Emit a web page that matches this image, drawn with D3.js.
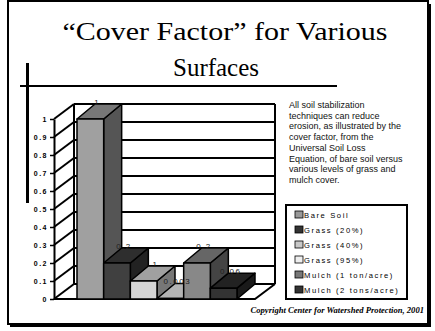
<!DOCTYPE html>
<html>
<head>
<meta charset="utf-8">
<script src="https://cdn.jsdelivr.net/npm/d3@7"></script>
<style>
    body { margin: 0; background: #fff; }
    svg { display: block; }
</style>
</head>
<body>
<svg id="slide" width="435" height="331"></svg>
<script>
// chart data
const series = ["Bare Soil", "Grass (20%)", "Grass (40%)", "Grass (95%)", "Mulch (1 ton/acre)", "Mulch (2 tons/acre)"];
const values = [1, 0.2, 0.1, 0.003, 0.2, 0.06];
const valueLabels = ["1", "0.2", "0.1", "0.003", "0.2", "0.06"];
const yTicks = [0, 0.1, 0.2, 0.3, 0.4, 0.5, 0.6, 0.7, 0.8, 0.9, 1];

// shades for each face of the 3d bars
const frontColors = ["#a0a0a0", "#404040", "#d4d4d4", "#e6e6e6", "#888888", "#333333"];
const topColors = ["#777777", "#2e2e2e", "#a0a0a0", "#b4b4b4", "#666666", "#222222"];
const sideColors = ["#555555", "#222222", "#777777", "#888888", "#444444", "#1a1a1a"];
const legendColors = ["#999999", "#333333", "#c8c8c8", "#eeeeee", "#777777", "#333333"];

const titleLines = ["\u201cCover Factor\u201d for Various", "Surfaces"];
const titleWidths = [325, 86];
const titleCenters = [225, 216];
const noteLines = [
    "All soil stabilization",
    "techniques can reduce",
    "erosion, as illustrated by the",
    "cover factor, from the",
    "Universal Soil Loss",
    "Equation, of bare soil versus",
    "various levels of grass and",
    "mulch  cover."
];
const copyright = "Copyright Center for Watershed Protection, 2001";

const svg = d3.select("#slide");

// slide frame with shadow
svg.append("rect")
    .attr("x", 8).attr("y", 1).attr("width", 420).attr("height", 323)
    .attr("fill", "none").attr("stroke", "#000").attr("stroke-width", 2);
svg.append("path")
    .attr("d", "M10,325.5 H429.5 V4")
    .attr("fill", "none").attr("stroke", "#000").attr("stroke-width", 3);

// title
svg.append("g")
    .selectAll("text")
    .data(titleLines)
    .join("text")
    .attr("x", (d, i) => titleCenters[i])
    .attr("y", (d, i) => 40 + i * 36)
    .attr("text-anchor", "middle")
    .attr("textLength", (d, i) => titleWidths[i])
    .attr("lengthAdjust", "spacingAndGlyphs")
    .style("font-family", "'Liberation Serif', serif")
    .style("font-size", "26px")
    .text(d => d);

// title rules
svg.append("line").attr("x1", 20).attr("x2", 337).attr("y1", 86).attr("y2", 86)
    .attr("stroke", "#000").attr("stroke-width", 2);
svg.append("line").attr("x1", 27.5).attr("x2", 27.5).attr("y1", 63).attr("y2", 203)
    .attr("stroke", "#000").attr("stroke-width", 3);

// chart geometry
const left = 54, right = 255;
const wallDx = 20, wallDy = -15;
const barDx = 18, barDy = -15;

const y = d3.scaleLinear()
    .domain([0, 1])
    .range([299, 119]);

const x = d3.scaleBand()
    .domain(series)
    .range([left + 23, right - 18]);

const chart = svg.append("g")
    .attr("stroke", "#000")
    .attr("stroke-width", 2)
    .attr("fill", "none");

// back wall gridlines
chart.selectAll(".grid")
    .data(yTicks)
    .join("line")
    .attr("class", "grid")
    .attr("x1", left + wallDx)
    .attr("x2", right + wallDx)
    .attr("y1", d => y(d) + wallDy)
    .attr("y2", d => y(d) + wallDy);
chart.append("line")
    .attr("x1", left + wallDx).attr("x2", left + wallDx)
    .attr("y1", y(1) + wallDy).attr("y2", y(0) + wallDy);
chart.append("line")
    .attr("x1", right + wallDx).attr("x2", right + wallDx)
    .attr("y1", y(1) + wallDy).attr("y2", y(0) + wallDy);

// left wall diagonals
chart.selectAll(".diag")
    .data(yTicks)
    .join("line")
    .attr("class", "diag")
    .attr("x1", left)
    .attr("x2", left + wallDx)
    .attr("y1", d => y(d))
    .attr("y2", d => y(d) + wallDy);

// floor
chart.append("path")
    .attr("d", `M${left},${y(0)} H${right} l${wallDx},${wallDy}`);

// y axis
const yAxis = svg.append("g")
    .attr("transform", `translate(${left},0)`)
    .call(d3.axisLeft(y).tickValues(yTicks).tickSize(4).tickSizeOuter(0).tickPadding(2)
        .tickFormat(d => String(d)));
yAxis.select(".domain").attr("stroke-width", 2);
yAxis.selectAll(".tick line").attr("stroke-width", 1.5);
yAxis.selectAll(".tick text")
    .style("font-family", "'Liberation Sans', Arial, sans-serif")
    .style("font-size", "7px")
    .style("font-weight", "bold")
    .style("letter-spacing", "1.5px");

// bars
const bars = svg.append("g")
    .selectAll("g")
    .data(series)
    .join("g")
    .attr("stroke", "#000")
    .attr("stroke-width", 1.5)
    .attr("stroke-linejoin", "round");

bars.append("path")
    .attr("fill", (d, i) => sideColors[i])
    .attr("d", (d, i) => {
        const x1 = x(d) + x.bandwidth(), yt = y(values[i]), yb = y(0);
        return `M${x1},${yt} l${barDx},${barDy} V${yb + barDy} L${x1},${yb} Z`;
    });
bars.append("path")
    .attr("fill", (d, i) => topColors[i])
    .attr("d", (d, i) => {
        const x0 = x(d), yt = y(values[i]);
        return `M${x0},${yt} l${barDx},${barDy} h${x.bandwidth()} l${-barDx},${-barDy} Z`;
    });
bars.append("rect")
    .attr("fill", (d, i) => frontColors[i])
    .attr("x", d => x(d))
    .attr("y", (d, i) => y(values[i]))
    .attr("width", x.bandwidth())
    .attr("height", (d, i) => y(0) - y(values[i]));

// value labels
svg.append("g")
    .selectAll("text")
    .data(series)
    .join("text")
    .attr("x", d => x(d) + x.bandwidth() / 2 + barDx / 2 - 2)
    .attr("y", (d, i) => y(values[i]) + barDy + 1)
    .attr("text-anchor", "middle")
    .style("font-family", "'Liberation Sans', Arial, sans-serif")
    .style("font-size", "8px")
    .style("letter-spacing", "1.5px")
    .style("fill", "#222")
    .text((d, i) => valueLabels[i]);

// explanatory note
svg.append("g")
    .selectAll("text")
    .data(noteLines)
    .join("text")
    .attr("x", 289)
    .attr("y", (d, i) => 108 + i * 10.7)
    .style("font-family", "'Liberation Sans', Arial, sans-serif")
    .style("font-size", "9px")
    .style("fill", "#111")
    .text(d => d);

// legend
svg.append("rect")
    .attr("x", 286).attr("y", 205).attr("width", 121).attr("height", 94)
    .attr("fill", "#fff").attr("stroke", "#000").attr("stroke-width", 2);

const legend = svg.append("g")
    .selectAll("g")
    .data(series)
    .join("g")
    .attr("transform", (d, i) => `translate(295,${215 + i * 15})`);
legend.append("rect")
    .attr("x", 0).attr("y", -4).attr("width", 8).attr("height", 7)
    .attr("fill", (d, i) => legendColors[i])
    .attr("stroke", "#000").attr("stroke-width", 0.8);
legend.append("text")
    .attr("x", 9)
    .attr("y", 3)
    .style("font-family", "'Liberation Sans', Arial, sans-serif")
    .style("font-size", "7.6px")
    .style("letter-spacing", "1.6px")
    .text(d => d);

// copyright
svg.append("text")
    .attr("x", 424)
    .attr("y", 313)
    .attr("text-anchor", "end")
    .style("font-family", "'Liberation Serif', serif")
    .style("font-size", "8.6px")
    .style("font-style", "italic")
    .style("font-weight", "bold")
    .text(copyright);
</script>
</body>
</html>
